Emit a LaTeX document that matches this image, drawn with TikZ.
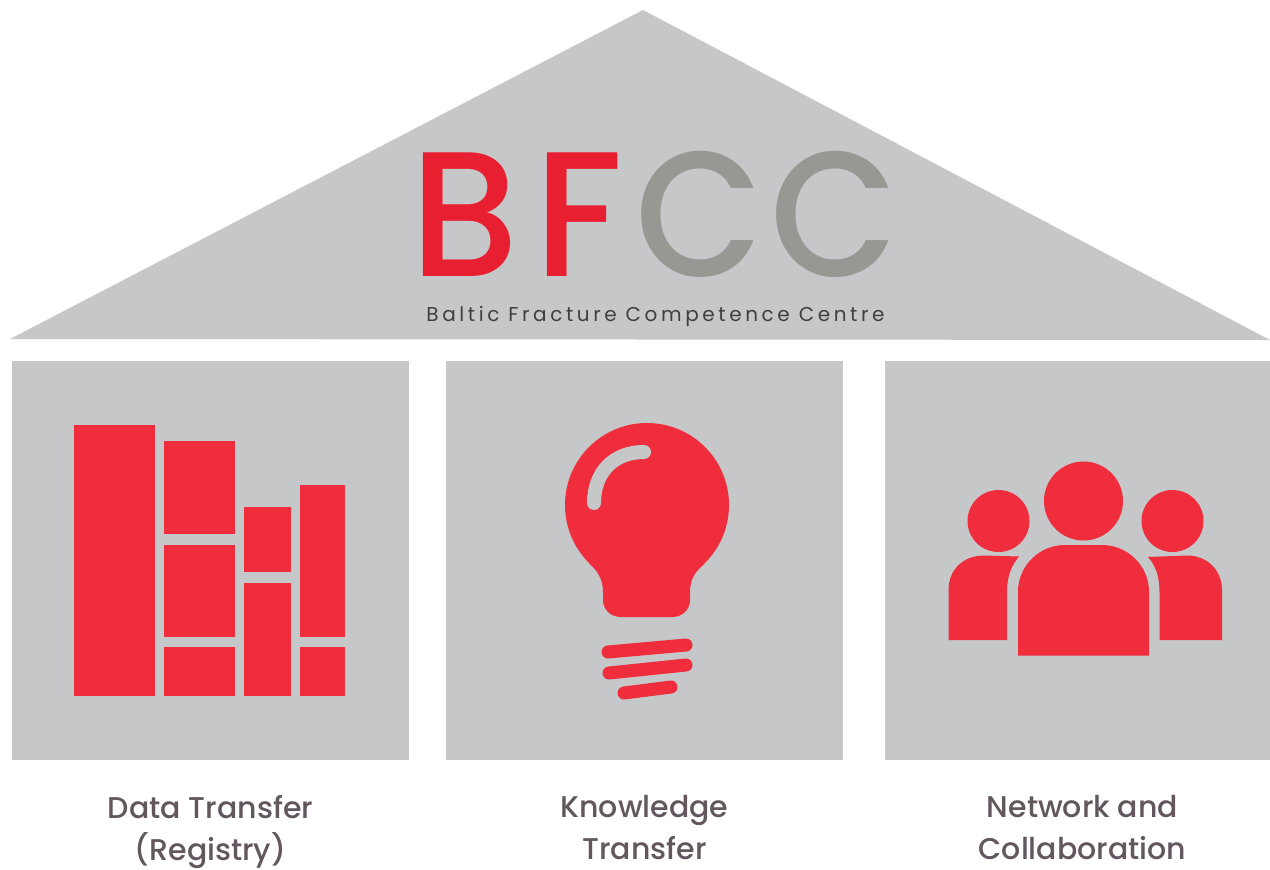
\documentclass[tikz,border=0pt]{standalone}
\usepackage{fontspec}
\usetikzlibrary{positioning}
\setmainfont{Poppins Medium}
\newfontfamily\logofont{Poppins Medium}
\newfontfamily\tagfont{Poppins}[LetterSpace=18]
\definecolor{housegrey}{HTML}{C6C7C9}
\definecolor{iconred}{HTML}{F02D3D}
\definecolor{logored}{HTML}{E81F30}
\definecolor{logogrey}{HTML}{979794}
\definecolor{labelgrey}{HTML}{62565F}
\tikzset{
  panel/.style={fill=housegrey, minimum width=397pt, minimum height=399pt, inner sep=0pt, outer sep=0pt},
  caption/.style={text=labelgrey, align=center, font=\fontsize{30}{42}\selectfont, inner sep=0pt},
  letter/.style={font=\logofont\fontsize{178}{178}\selectfont, anchor=base west, inner sep=0pt, xscale=.93, transform shape},
  wideletter/.style={letter, xscale=1.04},
  head/.style={circle, fill=iconred, inner sep=0pt},
  thread/.style={draw=iconred, line width=13pt, line cap=round}
}

\begin{document}
\begin{tikzpicture}[x=1pt,y=-1pt]
  \useasboundingbox (0,0) rectangle (1270,870);

  % roof
  \fill[housegrey] (643,10) -- (10,339) -- (1270,340) -- cycle;
  \node[wideletter, text=logored]  (b)  at (410.5,276) {B};
  \node[wideletter, text=logored]  (f)  at (534.5,276) {F};
  \node[letter, text=logogrey] (c1) at (635.5,276) {C};
  \node[letter, text=logogrey] (c2) at (770,276) {C};
  \node[text=black!75, font=\tagfont\fontsize{20}{20}\selectfont, anchor=base, inner sep=0pt] (tag) at (655.5,321) {Baltic Fracture Competence Centre};

  % panels
  \node[panel] (data) at (210.5,560.5) {};
  \node[panel] (know) at (644.5,560.5) {};
  \node[panel, minimum width=385pt] (net) at (1077.5,560.5) {};

  \node[caption, below=35pt of data] (datatext) {Data Transfer\\(Registry)};
  \node[caption, below=35pt of know] (knowtext) {Knowledge\\Transfer};
  \node[caption, below=35pt of net, xshift=5pt]  (nettext)  {Network and\\Collaboration};

  % books
  \foreach \xa/\ya/\xb/\yb in {74/425/155/696, 164/441/235/534, 164/545/235/637, 164/647/235/696,
                               244/507/291/572, 244/583/291/696, 300/485/345/637, 300/647/345/696}
    \fill[iconred] (\xa,\ya) rectangle (\xb,\yb);

  % bulb
  \node[head, minimum size=164pt] (bulb) at (647,505) {};
  \fill[iconred] (589,563) .. controls (597,571) and (603,578) .. (603,592)
    -- (603,600) .. controls (603,610) and (611,617) .. (621,617)
    -- (672,617) .. controls (682,617) and (690,610) .. (690,600)
    -- (690,592) .. controls (690,578) and (696,571) .. (705,563) -- cycle;
  \draw[draw=housegrey, line width=14pt, line cap=round] (594,503) .. controls (594,473) and (613,452) .. (644,452);
  \draw[thread] (608,652) -- (686,645);
  \draw[thread] (609,673) -- (686,665);
  \draw[thread] (624,693) -- (671,687);

  % people
  \node[head, minimum size=79pt] (mid)   at (1083.5,501) {};
  \node[head, minimum size=62pt] (left)  at (998.5,521) {};
  \node[head, minimum size=62pt] (right) at (1172.5,521) {};
  \fill[iconred] (1018,655.5) -- (1018,592) .. controls (1018,565) and (1040,545) .. (1065,545)
    -- (1102,545) .. controls (1127,545) and (1149,565) .. (1149,592) -- (1149,655.5) -- cycle;
  \fill[iconred] (948.5,640) -- (948.5,590) .. controls (948.5,570) and (963,555.5) .. (984,555.5)
    -- (1019,556.5) .. controls (1011,566) and (1007,577) .. (1007,592) -- (1007,640) -- cycle;
  \fill[iconred] (1222,640) -- (1222,590) .. controls (1222,570) and (1207,555.5) .. (1187,555.5)
    -- (1148,557) .. controls (1156,566) and (1159.5,577) .. (1159.5,592) -- (1159.5,640) -- cycle;
\end{tikzpicture}
\end{document}
